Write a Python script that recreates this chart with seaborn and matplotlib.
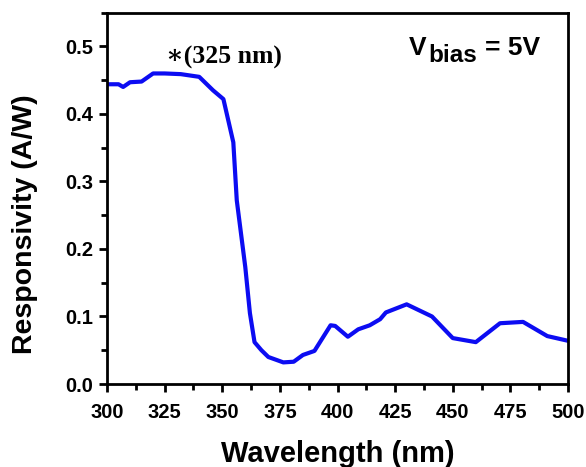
import matplotlib
matplotlib.use("Agg")
import matplotlib.pyplot as plt
from matplotlib.ticker import MultipleLocator
import seaborn as sns
import pandas as pd

# Photoresponse spectrum at 5 V bias
wavelength_nm = [300, 305, 307, 310, 315, 320, 325, 332, 340, 346, 350.5, 354.8,
                 356.3, 360, 362, 364, 367, 370, 376.5, 381, 385, 390, 397, 399,
                 404.5, 409, 414, 418.5, 421, 430, 441, 450, 460, 470.5, 480.5,
                 491, 500]
responsivity = [0.444, 0.444, 0.440, 0.447, 0.448, 0.460, 0.460, 0.459, 0.455,
                0.435, 0.422, 0.358, 0.272, 0.173, 0.105, 0.062, 0.050, 0.040,
                0.032, 0.033, 0.043, 0.049, 0.087, 0.086, 0.070, 0.081, 0.087,
                0.096, 0.106, 0.118, 0.100, 0.068, 0.062, 0.090, 0.092, 0.071,
                0.064]

x_ticks = [300, 325, 350, 375, 400, 425, 450, 475, 500]
y_ticks = [0.0, 0.1, 0.2, 0.3, 0.4, 0.5]

peak_label = "\u2217(325 nm)"

sns.set_theme(style="ticks")
plt.rcParams["font.family"] = ["Liberation Sans", "DejaVu Sans"]
plt.rcParams["font.weight"] = "bold"
for key in ["text.color", "axes.labelcolor", "xtick.color", "ytick.color",
            "axes.edgecolor"]:
    plt.rcParams[key] = "black"

df = pd.DataFrame({"wavelength": wavelength_nm, "resp": responsivity})

W, H = 586, 467
fig = plt.figure(figsize=(W / 100, H / 100), dpi=100)
ax = fig.add_axes([107 / W, 1 - 384 / H, 461 / W, 371.3 / H])

sns.lineplot(data=df, x="wavelength", y="resp", ax=ax, color="#0c0cf2",
             linewidth=3.0, sort=False)

ax.set_xlim(300, 500)
ax.set_ylim(0.0, 0.55)
ax.set_xticks(x_ticks)
ax.set_yticks(y_ticks)
ax.set_xticklabels([str(t) for t in x_ticks])
ax.set_yticklabels([f"{t:.1f}" for t in y_ticks])
ax.xaxis.set_minor_locator(MultipleLocator(12.5))
ax.yaxis.set_minor_locator(MultipleLocator(0.05))

for side in ["left", "right", "top", "bottom"]:
    ax.spines[side].set_visible(True)
    ax.spines[side].set_linewidth(2.0)
    ax.spines[side].set_color("black")

ax.tick_params(axis="x", which="major", direction="out", length=6, width=2.0,
               labelsize=14.5, pad=8)
ax.tick_params(axis="y", which="major", direction="out", length=6, width=2.0,
               labelsize=14.5, pad=4)
ax.tick_params(axis="both", which="minor", direction="out", length=4, width=2.0)
ax.tick_params(top=False, right=False, which="both")
for lbl in ax.get_xticklabels() + ax.get_yticklabels():
    lbl.set_fontweight("bold")

ax.set_xlabel("Wavelength (nm)", fontsize=21, fontweight="bold")
ax.set_ylabel("Responsivity (A/W)", fontsize=20.5, fontweight="bold")
ax.xaxis.set_label_coords(0.5, -0.15)
ax.yaxis.set_label_coords(-0.15, 0.43)

ax.text(325.5, 0.484, peak_label, family=["Liberation Serif", "DejaVu Serif"],
        fontsize=18.5, fontweight="bold", ha="left", va="center")

# V_bias = 5V, built from a main letter, a subscript and the value
fig.text(409 / W, 1 - 55 / H, "V", fontsize=19, fontweight="bold",
         ha="left", va="baseline")
fig.text(428 / W, 1 - 61.5 / H, "bias", fontsize=17.5, fontweight="bold",
         ha="left", va="baseline")
fig.text(485 / W, 1 - 55 / H, "= 5V", fontsize=19, fontweight="bold",
         ha="left", va="baseline")

fig.savefig("out.png", dpi=100)
